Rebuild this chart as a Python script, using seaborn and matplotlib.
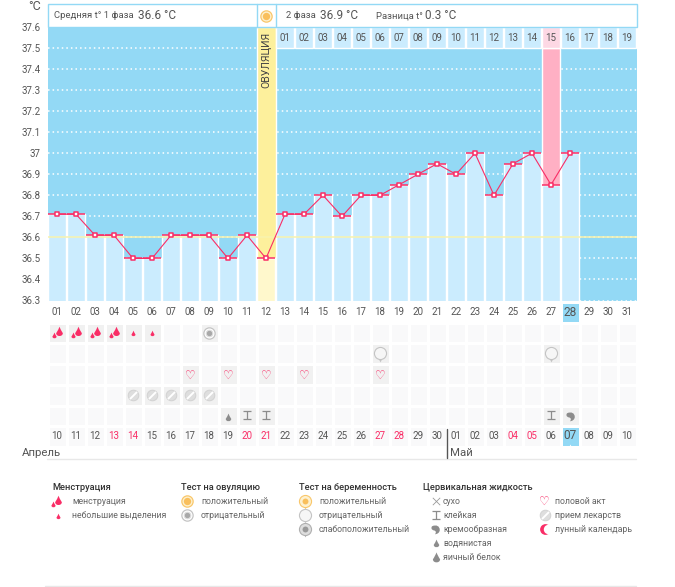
import numpy as np
import pandas as pd
import seaborn as sns
import matplotlib
matplotlib.use('Agg')
import matplotlib.pyplot as plt
from matplotlib.colors import ListedColormap
from matplotlib.path import Path
from matplotlib.patches import Rectangle
from matplotlib.transforms import ScaledTranslation

W, H = 675, 587
sns.set_style('white')
plt.rcParams['font.family'] = ['Roboto', 'DejaVu Sans']

# chart data
cycle_days = ['%02d' % d for d in range(1, 32)]
temps = [36.71, 36.71, 36.61, 36.61, 36.5, 36.5, 36.61, 36.61, 36.61, 36.5, 36.61, 36.5,
         36.71, 36.71, 36.8, 36.7, 36.8, 36.8, 36.85, 36.9, 36.95, 36.9, 37.0, 36.8,
         36.95, 37.0, 36.85, 37.0]
y_ticks = [37.6, 37.5, 37.4, 37.3, 37.2, 37.1, 37.0, 36.9, 36.8, 36.7, 36.6, 36.5, 36.4, 36.3]
y_labels = ['37.6', '37.5', '37.4', '37.3', '37.2', '37.1', '37', '36.9', '36.8', '36.7',
            '36.6', '36.5', '36.4', '36.3']
phase2_days = ['%02d' % d for d in range(1, 20)]
calendar_dates = ['10', '11', '12', '13', '14', '15', '16', '17', '18', '19', '20', '21', '22',
                  '23', '24', '25', '26', '27', '28', '29', '30', '01', '02', '03', '04', '05',
                  '06', '07', '08', '09', '10']
weekend_dates = [3, 4, 10, 11, 17, 18, 24, 25]   # column numbers with red dates
coverline = 36.6
ovulation_col = 11
peak_col = 26
today_col = 27
heavy_days = [1, 2, 3, 4]
light_days = [5, 6]
ovul_neg_days = [9]
preg_neg_days = [18, 27]
sex_days = [8, 10, 12, 14, 18]
pill_days = [5, 6, 7, 8, 9]
water_days = [10]
sticky_days = [11, 12, 27]
creamy_days = [28]

SKY = '#93d9f5'
BAR = '#cbecfe'
RED = '#f92d66'
GREY = '#555555'
ICON = '#8c8c8c'
YELLOW = '#fdf09c'

DROP = Path([(0, 1), (0.2, 0.4), (0.7, -0.35), (0.7, -1.15), (-0.7, -1.15), (-0.7, -0.35),
             (-0.2, 0.4), (0, 1), (0, 1)],
            [Path.MOVETO, Path.CURVE3, Path.CURVE3, Path.CURVE4, Path.CURVE4, Path.CURVE4,
             Path.CURVE3, Path.CURVE3, Path.CLOSEPOLY])
SLASH = Path([(-0.7, -0.7), (0.7, 0.7)], [Path.MOVETO, Path.LINETO])
STICKY = Path([(-1, 1), (1, 1), (0, 1), (0, -1), (-1, -1), (1, -1)],
              [Path.MOVETO, Path.LINETO, Path.MOVETO, Path.LINETO, Path.MOVETO, Path.LINETO])
COMMA = Path([(-0.7, 0.7), (0.2, 1.1), (0.9, 0.7), (0.9, -0.1), (0.9, -0.7), (0.3, -1), (-0.1, -1),
              (0.2, -0.6), (0.1, -0.3), (-0.3, -0.2), (-0.9, -0.1), (-1, 0.4), (-0.7, 0.7), (-0.7, 0.7)],
             [Path.MOVETO, Path.CURVE4, Path.CURVE4, Path.CURVE4, Path.CURVE4, Path.CURVE4, Path.CURVE4,
              Path.CURVE4, Path.CURVE4, Path.CURVE4, Path.CURVE4, Path.CURVE4, Path.CURVE4, Path.CLOSEPOLY])


def rect(left, top, right, bottom):
    return [left / W, 1 - bottom / H, (right - left) / W, (bottom - top) / H]


fig = plt.figure(figsize=(W / 100, H / 100), dpi=100, facecolor='white')

# temperature chart
ax = fig.add_axes(rect(47.5, 27, 636.5, 300.5))
ax.set_facecolor(SKY)
df = pd.DataFrame({'pos': range(len(temps)), 'temp': temps})
bar_colors = {i: BAR for i in df['pos']}
bar_colors[ovulation_col] = '#fff8cc'
sns.barplot(data=df, x='pos', y='temp', hue='pos', palette=bar_colors, order=list(range(31)),
            width=0.95, legend=False, saturation=1, ax=ax, zorder=2)
ax.bar(ovulation_col, y_ticks[0] - temps[ovulation_col], bottom=temps[ovulation_col], width=1,
       color=YELLOW, zorder=2)
ax.bar(peak_col, y_ticks[1] - temps[peak_col], bottom=temps[peak_col], width=0.95, color='#ffb0c4', zorder=2)
phase2_pos = np.arange(ovulation_col + 1, ovulation_col + 1 + len(phase2_days))
phase2_colors = [('#fdd8e4' if p == peak_col else BAR) for p in phase2_pos]
ax.bar(phase2_pos, y_ticks[0] - y_ticks[1], bottom=y_ticks[1], width=0.95, color=phase2_colors, zorder=2)
for p, lab in zip(phase2_pos, phase2_days):
    ax.text(p, 37.55, lab, ha='center', va='center', fontsize=7, color=GREY, zorder=3)
ax.text(ovulation_col, 37.575, 'ОВУЛЯЦИЯ', rotation=90, ha='center', va='top', fontsize=7.6,
        color='#444444', zorder=3)

ax.set_xlim(-0.5, 30.5)
ax.set_ylim(36.3, 37.6)
ax.set_yticks(y_ticks)
ax.set_yticklabels(y_labels, fontsize=7, color=GREY)
for lbl in ax.get_yticklabels():
    lbl.set_transform(lbl.get_transform() + ScaledTranslation(0, -0.02, fig.dpi_scale_trans))
ax.tick_params(axis='y', length=0, pad=5)
ax.set_xticks([])
ax.set_axisbelow(True)
ax.grid(axis='y', color='white', linestyle=(0, (1, 2)), linewidth=1.1, zorder=1)
ax.axhline(coverline, color='#f8f3ae', linewidth=1.1, zorder=3)
for s in ax.spines.values():
    s.set_visible(False)

sns.scatterplot(data=df, x='pos', y='temp', marker='_', s=185, color=RED, linewidth=1.1, zorder=4, ax=ax)
sns.lineplot(data=df, x='pos', y='temp', color=RED, linewidth=0.8, zorder=5, ax=ax)
sns.scatterplot(data=df, x='pos', y='temp', marker='s', s=11, color='white', edgecolor=RED, linewidth=1.1,
                zorder=6, ax=ax)
ax.set_xlabel('')
ax.set_ylabel('')

# calendar grid, first row is the cycle days and the last one the dates
grid = np.ones((7, 31), dtype=int)
grid[0, :] = 0
grid[0, today_col] = 3
grid[6, today_col] = 3
for row, days in [(1, heavy_days + light_days + ovul_neg_days), (2, preg_neg_days), (3, sex_days),
                  (4, pill_days), (5, water_days + sticky_days + creamy_days)]:
    for d in days:
        grid[row, d - 1] = 2
cal = fig.add_axes(rect(47.5, 302, 636.5, 447))
sns.heatmap(grid, ax=cal, cmap=ListedColormap(['white', '#f9f9fa', '#f1f1f1', SKY]), vmin=0, vmax=3,
            cbar=False, linewidths=1, linecolor='white', xticklabels=False, yticklabels=False)
cal.tick_params(length=0)


def sx(a):
    return 1 / 19 if a is cal else 1


def sy(a):
    return 1 / 20.7 if a is cal else 1


def drop(a, x, y, s, color=RED):
    a.scatter([x], [y], marker=DROP, s=s, color=color, linewidths=0, zorder=5, clip_on=False)


def heavy(a, x, y):
    drop(a, x, y, 62)
    drop(a, x - 5.5 * sx(a), y + 3.5 * sy(a), 24)


def pill(a, x, y):
    a.scatter([x], [y], s=58, color='#dedede', edgecolor='#d2d2d2', linewidth=0.7, zorder=5)
    a.scatter([x], [y], s=26, marker=SLASH, color='white', linewidths=1.4, zorder=6)


def ovul_neg(a, x, y):
    a.scatter([x], [y], s=66, color='white', edgecolor='#c4c4c4', linewidth=0.9, zorder=5)
    a.scatter([x], [y], s=22, color='#a8a8a8', edgecolor='#dddddd', linewidth=0.8, zorder=6)


def ovul_pos(a, x, y):
    a.scatter([x], [y], s=66, color='#fdf1d0', edgecolor='#f9c76b', linewidth=0.9, zorder=5)
    a.scatter([x], [y], s=28, color='#f9bf5c', linewidths=0, zorder=6)


def preg(a, x, y, fill='#f6f6f6', edge='#c4c4c4', inner=None):
    a.scatter([x], [y + 5.6 * sy(a)], s=18, marker='v', color=edge, linewidths=0, zorder=5)
    a.scatter([x], [y], s=76, color=fill, edgecolor=edge, linewidth=0.8, zorder=5)
    if inner:
        a.scatter([x], [y], s=18, color=inner, linewidths=0, zorder=6)


def heart(a, x, y):
    a.text(x, y, '\u2661', fontsize=8.6, color=RED, ha='center', va='center', family='DejaVu Sans',
           fontweight='bold', zorder=6)


def sticky(a, x, y):
    a.scatter([x], [y], s=26, marker=STICKY, color=ICON, linewidths=0.9, zorder=6)


def creamy(a, x, y):
    a.scatter([x], [y], s=56, marker=COMMA, color=ICON, linewidths=0, zorder=6)


for j, lab in enumerate(cycle_days):
    big = j == today_col
    cal.text(j + 0.5, 0.5, lab, ha='center', va='center', fontsize=8.6 if big else 7, color=GREY)
    col = RED if j in weekend_dates else GREY
    cal.text(j + 0.5, 6.46, calendar_dates[j], ha='center', va='center', fontsize=8.6 if big else 7, color=col)
cal.scatter([today_col + 0.5], [6.93], marker='^', s=8, color='white', linewidths=0, zorder=6)

for d in heavy_days:
    heavy(cal, d - 0.5 + 0.12, 1.42)
for d in light_days:
    drop(cal, d - 0.5, 1.52, 22)
for d in ovul_neg_days:
    ovul_neg(cal, d - 0.5, 1.5)
for d in preg_neg_days:
    preg(cal, d - 0.5, 2.46)
for d in sex_days:
    heart(cal, d - 0.5, 3.52)
for d in pill_days:
    pill(cal, d - 0.5, 4.5)
for d in water_days:
    drop(cal, d - 0.5, 5.56, 42, ICON)
for d in sticky_days:
    sticky(cal, d - 0.5, 5.45)
for d in creamy_days:
    creamy(cal, d - 0.5, 5.5)

# overlay in pixel coordinates for the header, month labels and legend
ov = fig.add_axes([0, 0, 1, 1], zorder=10)
ov.set_xlim(0, W)
ov.set_ylim(H, 0)
ov.axis('off')
ov.patch.set_alpha(0)

ov.add_patch(Rectangle((47.5, 3.5), 589, 23.5, facecolor='white', edgecolor=SKY, linewidth=1))
ov.plot([256.5, 256.5], [3.5, 27], color=SKY, linewidth=1)
ov.plot([275.5, 275.5], [3.5, 27], color=SKY, linewidth=1)
ovul_pos(ov, 266, 16)
ov.text(28, 7, '°C', fontsize=9, color=GREY, va='center')
ov.text(54, 16, 'Средняя t° 1 фаза', fontsize=6.8, color=GREY, va='center')
ov.text(138, 15.5, '36.6 °C', fontsize=8.5, color=GREY, va='center')
ov.text(286, 16, '2 фаза', fontsize=6.8, color=GREY, va='center')
ov.text(320, 15.5, '36.9 °C', fontsize=8.5, color=GREY, va='center')
ov.text(376, 16, 'Разница t°', fontsize=6.8, color=GREY, va='center')
ov.text(425, 15.5, '0.3 °C', fontsize=8.5, color=GREY, va='center')

ov.plot([47, 636], [458.5, 458.5], color='#e8e8e8', linewidth=1)
ov.plot([45, 636], [586, 586], color='#e8e8e8', linewidth=1)
ov.plot([446.5, 446.5], [429, 458], color=GREY, linewidth=1)
ov.text(22, 453, 'Апрель', fontsize=8.2, color=GREY, va='center')
ov.text(450, 453, 'Май', fontsize=8.2, color=GREY, va='center')

for x, title in [(52, 'Менструация'), (181, 'Тест на овуляцию'), (299, 'Тест на беременность'),
                 (423, 'Цервикальная жидкость')]:
    ov.text(x, 487, title, fontsize=6.7, color='#333333', va='center', fontweight='medium')

for x, y, lab in [(72, 501, 'менструация'), (72, 515, 'небольшие выделения'),
                  (201, 501, 'положительный'), (201, 515, 'отрицательный'),
                  (319, 501, 'положительный'), (319, 515, 'отрицательный'), (319, 529, 'слабоположительный'),
                  (443, 501, 'сухо'), (443, 515, 'клейкая'), (443, 529, 'кремообразная'),
                  (443, 543, 'водянистая'), (443, 557, 'яичный белок'),
                  (555, 501, 'половой акт'), (555, 515, 'прием лекарств'), (555, 529, 'лунный календарь')]:
    ov.text(x, y, lab, fontsize=6.3, color='#666666', va='center')

heavy(ov, 58, 500)
drop(ov, 57.5, 515.5, 22)
ovul_pos(ov, 187, 501)
ovul_neg(ov, 187, 515)
preg(ov, 305, 500.5, fill='#fdf1d0', edge='#f9c76b', inner='#f9bf5c')
preg(ov, 305, 514.5)
preg(ov, 305, 528.5, fill='#dddddd', edge='#b0b0b0', inner='#999999')
ov.scatter([435.5], [501], marker='x', s=28, color='#999999', linewidths=0.6)
sticky(ov, 435.5, 515)
creamy(ov, 435, 529)
drop(ov, 435.5, 543, 42, ICON)
drop(ov, 435.5, 557, 72, ICON)
heart(ov, 544.5, 501)
pill(ov, 544.5, 515)
ov.scatter([544.5], [529], s=60, color=RED, linewidths=0, zorder=5)
ov.scatter([548], [529], s=46, color='white', linewidths=0, zorder=6)

fig.savefig('out.png', dpi=100, facecolor='white')
